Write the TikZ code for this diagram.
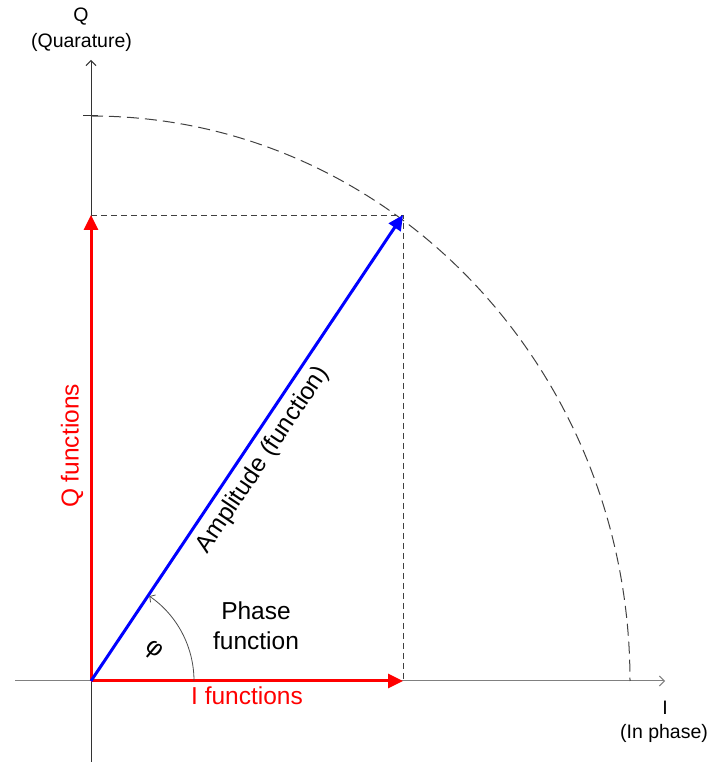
\documentclass[tikz,border=0pt]{standalone}
\usepackage{fontspec}
\setmainfont{Liberation Sans}
\usetikzlibrary{arrows.meta}
\definecolor{axisgray}{HTML}{808080}
\definecolor{dashgray}{HTML}{404040}
\begin{document}
\begin{tikzpicture}[x=1pt,y=1pt,
  bigtxt/.style={font=\fontsize{24.5}{30}\selectfont, inner sep=0pt},
  smalltxt/.style={font=\fontsize{19.5}{22}\selectfont, inner sep=0pt},
  axisline/.style={line width=1pt, -{Straight Barb[length=5pt,width=10pt]}},
  guide/.style={dashgray, line width=0.9pt, dash pattern=on 6pt off 4pt},
  arcguide/.style={dashgray, line width=1pt, dash pattern=on 12pt off 6pt},
  redvec/.style={red, line width=3pt, -{Triangle[length=15pt,width=14pt]}},
  bluevec/.style={blue, line width=3pt, -{Triangle[length=15pt,width=14pt]}}]
\useasboundingbox (0,0) rectangle (711,764);
\coordinate (O) at (91,83);
\coordinate (Qt) at (91,704);
\coordinate (Qb) at (91,2);
\coordinate (Il) at (15,83);
\coordinate (Ir) at (665,83);
\coordinate (P) at (403,549);
\coordinate (Qp) at (91,549);
\coordinate (Ip) at (403,83);
\coordinate (Tl) at (83,648);
\coordinate (Tr) at (98,648);
% axes
\draw[axisline, axisgray] (Il) -- (Ir);
\draw[axisline, black!80] (Qb) -- (Qt);
\draw[black!80, line width=1pt] (Tl) -- (Tr);
% guides
\draw[guide] (Qp) -- (P) -- (Ip);
\draw[arcguide] (91,648) arc[start angle=90, end angle=0, x radius=539, y radius=565];
% vectors
\draw[redvec] (O) -- (Qp);
\draw[redvec] (O) -- (Ip);
\draw[bluevec] (O) -- (P);
% phase arc
\draw[black!70, line width=0.8pt, -{Straight Barb[length=4pt,width=9pt]}] (194,83) arc[start angle=0, end angle=55.5, radius=103];
% labels
\node[smalltxt] (qlab) at (81,747) {Q};
\node[smalltxt] (qsub) at (81.5,722) {(Quarature)};
\node[smalltxt] (ilab) at (665,56) {I};
\node[smalltxt] (isub) at (664,31) {(In phase)};
\node[bigtxt, red, rotate=90] (qf) at (72,318) {Q functions};
\node[bigtxt, red] (if) at (247,68) {I functions};
\node[bigtxt, align=center] (pf) at (256,138) {Phase\\function};
\node[bigtxt, rotate=56.2] (amp) at (263,304) {Amplitude (function)};
\node[bigtxt, rotate=-40] (phi) at (153,114) {φ};
\end{tikzpicture}
\end{document}
